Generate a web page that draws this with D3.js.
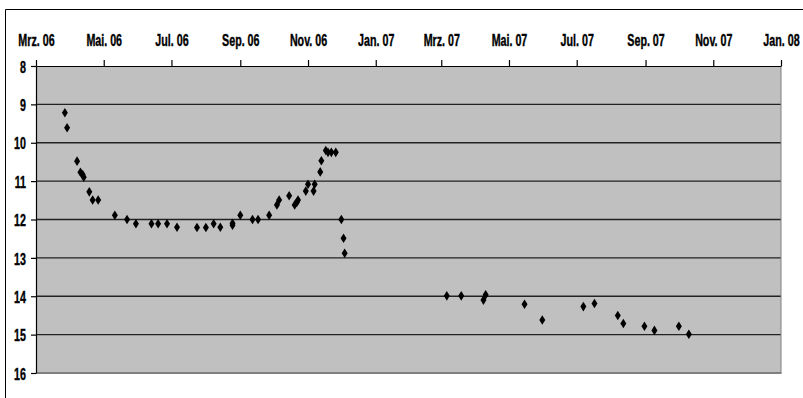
<!DOCTYPE html>
<html>
<head>
<meta charset="utf-8">
<script src="https://cdn.jsdelivr.net/npm/d3@7/dist/d3.min.js"></script>
<style>
  html, body { margin: 0; padding: 0; background: #fff; }
  svg { display: block; }
</style>
</head>
<body>
<svg id="chart" width="803" height="398"></svg>
<script>
// ---- data ----
const dates = [
  "2006-03-27","2006-03-29","2006-04-07","2006-04-10","2006-04-12","2006-04-13",
  "2006-04-18","2006-04-21","2006-04-26","2006-05-11","2006-05-22","2006-05-30",
  "2006-06-13","2006-06-19","2006-06-27","2006-07-06","2006-07-24","2006-08-01",
  "2006-08-08","2006-08-14","2006-08-25","2006-08-25","2006-09-01","2006-09-12",
  "2006-09-17","2006-09-27","2006-10-04","2006-10-06","2006-10-15","2006-10-20",
  "2006-10-22","2006-10-23","2006-10-30","2006-11-01","2006-11-06","2006-11-07",
  "2006-11-12","2006-11-13","2006-11-17","2006-11-19","2006-11-22","2006-11-26",
  "2006-12-01","2006-12-03","2006-12-04",
  "2007-03-06","2007-03-19","2007-04-08","2007-04-10","2007-05-15","2007-05-31",
  "2007-07-07","2007-07-17","2007-08-07","2007-08-12","2007-08-31","2007-09-09",
  "2007-10-01","2007-10-10"
];
const values = [
  9.22, 9.61, 10.48, 10.77, 10.83, 10.90,
  11.28, 11.49, 11.49, 11.89, 12.00, 12.11,
  12.11, 12.11, 12.11, 12.20, 12.21, 12.21,
  12.11, 12.20, 12.10, 12.15, 11.89, 12.00,
  12.00, 11.89, 11.62, 11.49, 11.38, 11.62,
  11.55, 11.49, 11.26, 11.08, 11.26, 11.08,
  10.76, 10.47, 10.20, 10.25, 10.25, 10.25,
  12.00, 12.49, 12.88,
  13.99, 13.99, 14.10, 13.96, 14.21, 14.62,
  14.27, 14.19, 14.50, 14.71, 14.78, 14.89,
  14.78, 14.99
];
const xTickDates = ["2006-03-01","2006-05-01","2006-07-01","2006-09-01","2006-11-01","2007-01-01",
                    "2007-03-01","2007-05-01","2007-07-01","2007-09-01","2007-11-01","2008-01-01"];
const xTickLabels = ["Mrz. 06","Mai. 06","Jul. 06","Sep. 06","Nov. 06","Jan. 07",
                     "Mrz. 07","Mai. 07","Jul. 07","Sep. 07","Nov. 07","Jan. 08"];
const yTicks = [8, 9, 10, 11, 12, 13, 14, 15, 16];
const yDomain = [8, 16];
const xDomain = ["2006-03-01", "2008-01-01"];

// ---- layout ----
const svg = d3.select("#chart");
const L = 36, R = 781, T = 66, B = 373;
const SX = 0.63; // horizontal condensing of label text
const parse = d3.utcParse("%Y-%m-%d");
const x = d3.scaleUtc().domain(xDomain.map(parse)).range([L, R]);
const y = d3.scaleLinear().domain(yDomain).range([T, B]);

function styleLabel(sel) {
  sel.attr("font-family", null).attr("font-size", null)
    .style("font-family", '"Liberation Sans", Arial, sans-serif')
    .style("font-weight", "bold")
    .style("font-size", "17px")
    .style("fill", "#000")
    .style("stroke", "#000").style("stroke-width", "0.4px")
    .attr("transform", `scale(${SX},1)`);
}

// outer chart border
svg.append("path").attr("d", `M5.5,398 L5.5,9.5 L803,9.5`).attr("fill", "none").attr("stroke", "#000").attr("stroke-width", 1);

// plot area
svg.append("rect").attr("x", L).attr("y", T).attr("width", R - L).attr("height", B - T).attr("fill", "#c0c0c0");

// gridlines
svg.append("g").selectAll("line").data(yTicks.filter(d => d > 8 && d < 16)).join("line")
  .attr("x1", L).attr("x2", R).attr("y1", d => y(d)).attr("y2", d => y(d))
  .attr("stroke", "#222").attr("stroke-width", 1.4);

// right & bottom borders (gray)
svg.append("line").attr("x1", R).attr("x2", R).attr("y1", T).attr("y2", B).attr("stroke", "#808080").attr("stroke-width", 1);
svg.append("line").attr("x1", L).attr("x2", R + 0.5).attr("y1", B).attr("y2", B).attr("stroke", "#808080").attr("stroke-width", 2);

// top axis
const xAxis = d3.axisTop(x).tickValues(xTickDates.map(parse)).tickFormat((d, i) => xTickLabels[i]).tickSize(6).tickSizeOuter(0);
const gx = svg.append("g").attr("transform", `translate(0,${T})`).call(xAxis);
gx.select(".domain").attr("stroke", "#000").attr("stroke-width", 1.2);
gx.selectAll(".tick line").attr("stroke", "#000").attr("stroke-width", 1.2);
gx.selectAll(".tick text").attr("y", -20).attr("dy", 0).call(styleLabel);

// left axis
const yAxis = d3.axisLeft(y).tickValues(yTicks).tickFormat(d3.format("d")).tickSize(5).tickSizeOuter(0);
const gy = svg.append("g").attr("transform", `translate(${L},0)`).call(yAxis);
gy.select(".domain").attr("stroke", "#000").attr("stroke-width", 1.2);
gy.selectAll(".tick line").attr("stroke", "#000").attr("stroke-width", 1.2);
gy.selectAll(".tick text").attr("x", -10 / SX).attr("dy", "0.36em").call(styleLabel);

// markers
const diamond = "M0,-4.8 L3,0 L0,4.8 L-3,0 Z";
svg.append("g").selectAll("path").data(dates.map((d, i) => ({ d: parse(d), v: values[i] }))).join("path")
  .attr("d", diamond)
  .attr("transform", p => `translate(${x(p.d)},${y(p.v)})`)
  .attr("fill", "#000");
</script>
</body>
</html>
